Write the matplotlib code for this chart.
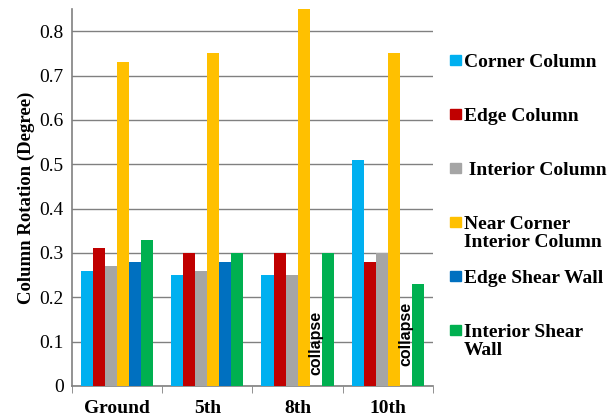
import numpy as np
import matplotlib.pyplot as plt
from matplotlib.patches import Rectangle

floors = ['Ground', '5th', '8th', '10th']
series = ['Corner Column', 'Edge Column', ' Interior Column',
          'Near Corner\nInterior Column', 'Edge Shear Wall', 'Interior Shear\nWall']
corner = [0.26, 0.25, 0.25, 0.51]
edge = [0.31, 0.30, 0.30, 0.28]
interior = [0.27, 0.26, 0.25, 0.30]
near_corner = [0.73, 0.75, 0.87, 0.75]
edge_wall = [0.28, 0.28, np.nan, np.nan]
interior_wall = [0.33, 0.30, 0.30, 0.23]
collapse_y = [None, None, 0.025, 0.045]

colors = ['#00B0F0', '#C00000', '#A5A5A5', '#FFC000', '#0070C0', '#00B050']
values = [corner, edge, interior, near_corner, edge_wall, interior_wall]

plt.rcParams['font.family'] = ['Liberation Serif', 'DejaVu Serif']

fig = plt.figure(figsize=(6.15, 4.19), dpi=100)
ax = fig.add_axes([0.117, 0.079, 0.587, 0.8995])

x = np.arange(len(floors))
w = 0.8 / len(series)
for i, vals in enumerate(values):
    ax.bar(x - 0.4 + w * (i + 0.5), vals, w, color=colors[i], zorder=3)

for j, cy in enumerate(collapse_y):
    if cy is not None:
        ax.text(x[j] - 0.4 + w * 4.5, cy, 'collapse', rotation=90, ha='center', va='bottom',
                fontsize=11.5, fontweight='bold', family='Liberation Sans', zorder=4)

ax.set_ylim(0, 0.85)
ax.set_xlim(-0.5, len(floors) - 0.5)
ax.set_yticks(np.arange(0, 0.81, 0.1))
ax.set_yticklabels(['0'] + ['%.1f' % v for v in np.arange(0.1, 0.81, 0.1)], fontsize=14)
ax.set_xticks(x)
ax.set_xticklabels(floors, fontsize=14, fontweight='bold')
ax.set_xticks(np.arange(-0.5, len(floors), 1), minor=True)
ax.tick_params(axis='x', which='major', length=0, pad=10.5)
ax.tick_params(axis='x', which='minor', length=5, color='#808080', direction='out')
ax.tick_params(axis='y', length=0, pad=6)
ax.grid(axis='y', color='#808080', linewidth=1, zorder=0)
for s in ['top', 'right']:
    ax.spines[s].set_visible(False)
for s in ['left', 'bottom']:
    ax.spines[s].set_color('#808080')
    ax.spines[s].set_linewidth(1.2)
ax.set_ylabel('Column Rotation (Degree)', fontsize=13.5, fontweight='bold', labelpad=3)

# legend drawn by hand to match the uneven spacing
for i, (lab, c) in enumerate(zip(series, colors)):
    ytop = 1 - (60 + 54 * i) / 419
    fig.patches.append(Rectangle((450 / 615, ytop - 5 / 419), 11 / 615, 10 / 419,
                                 transform=fig.transFigure, color=c))
    fig.text(464 / 615, ytop + 6 / 419, lab, fontsize=14, fontweight='bold',
             va='top', ha='left', linespacing=1.1)

fig.savefig('out.png', dpi=100)
